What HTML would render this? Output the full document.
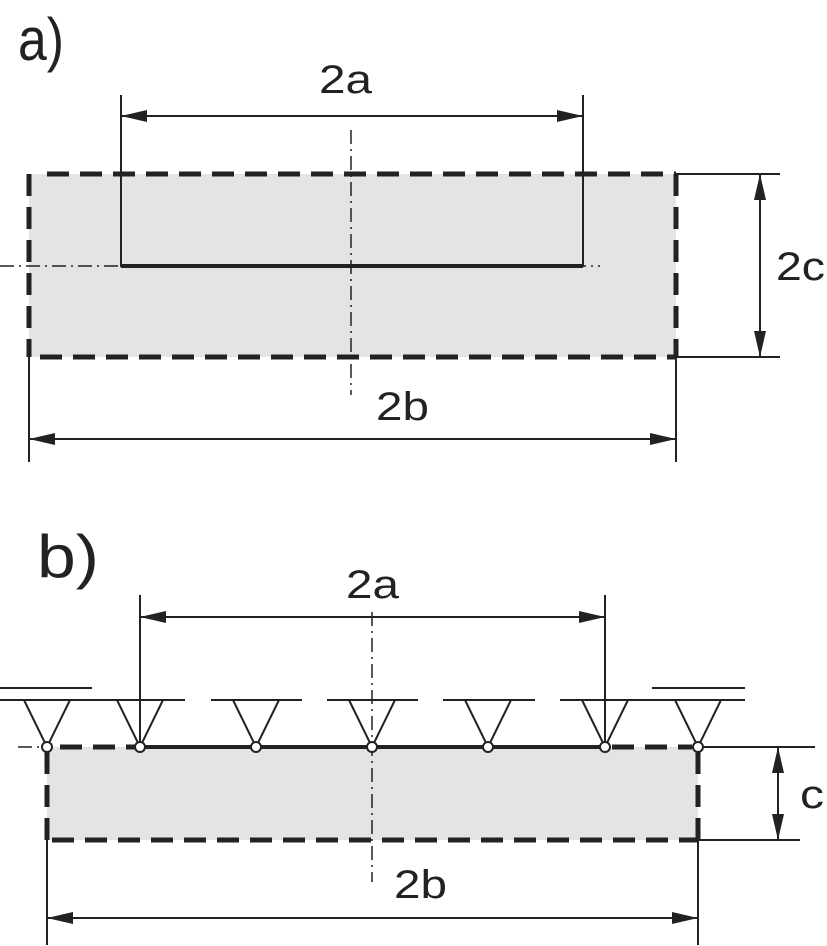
<!DOCTYPE html>
<html><head><meta charset="utf-8"><style>html,body{margin:0;padding:0;background:#fff}svg{display:block}</style></head>
<body>
<svg width="827" height="946" viewBox="0 0 827 946" xmlns="http://www.w3.org/2000/svg" font-family="Liberation Sans, sans-serif" fill="#222">
<defs>
<marker id="ar" viewBox="0 0 26 12" refX="26" refY="6" markerWidth="26" markerHeight="12" markerUnits="userSpaceOnUse" orient="auto-start-reverse"><path d="M0,0 L26,6 L0,12 z" fill="#222"/></marker>
</defs>
<!-- Part a -->
<text x="18" y="60" font-size="60" textLength="46" lengthAdjust="spacingAndGlyphs">a)</text>
<text x="319" y="93" font-size="40" textLength="53" lengthAdjust="spacingAndGlyphs">2a</text>
<rect x="29" y="174" width="647" height="183" fill="#e4e4e4"/>
<g stroke="#222" stroke-width="5" fill="none" stroke-dasharray="22,11">
<line x1="47" y1="174" x2="676" y2="174"/>
<line x1="40" y1="357" x2="676" y2="357"/>
<line x1="29" y1="174" x2="29" y2="357"/>
<line x1="676" y1="174" x2="676" y2="357"/>
</g>
<g stroke="#222" stroke-width="1.5" fill="none" stroke-dasharray="14,5,2,5">
<line x1="351" y1="130" x2="351" y2="395"/>
<line x1="0" y1="266" x2="600" y2="266"/>
</g>
<path d="M121,95 V266 H583 V95" stroke="#222" stroke-width="2" fill="none"/>
<line x1="121" y1="266" x2="583" y2="266" stroke="#222" stroke-width="4"/>
<g stroke="#222" stroke-width="2" fill="none">
<line x1="121" y1="116" x2="583" y2="116" marker-start="url(#ar)" marker-end="url(#ar)"/>
<line x1="676" y1="174" x2="780" y2="174"/>
<line x1="676" y1="357" x2="780" y2="357"/>
<line x1="760" y1="174" x2="760" y2="357" marker-start="url(#ar)" marker-end="url(#ar)"/>
<line x1="29" y1="357" x2="29" y2="462"/>
<line x1="676" y1="357" x2="676" y2="462"/>
<line x1="29" y1="439" x2="676" y2="439" marker-start="url(#ar)" marker-end="url(#ar)"/>
</g>
<text x="776" y="280" font-size="40" textLength="49" lengthAdjust="spacingAndGlyphs">2c</text>
<text x="376" y="420" font-size="40" textLength="53" lengthAdjust="spacingAndGlyphs">2b</text>

<!-- Part b -->
<text x="37" y="577" font-size="60" textLength="62" lengthAdjust="spacingAndGlyphs">b)</text>
<text x="346" y="598" font-size="40" textLength="53" lengthAdjust="spacingAndGlyphs">2a</text>
<rect x="47" y="747" width="651" height="93" fill="#e4e4e4"/>
<g stroke="#222" stroke-width="5" fill="none" stroke-dasharray="22,11">
<line x1="52" y1="840" x2="698" y2="840"/>
<line x1="47" y1="752" x2="47" y2="840"/>
<line x1="698" y1="752" x2="698" y2="840"/>
<line x1="60" y1="747" x2="135" y2="747"/>
<line x1="612" y1="747" x2="692" y2="747"/>
</g>
<line x1="140" y1="747" x2="605" y2="747" stroke="#222" stroke-width="4"/>
<g stroke="#222" stroke-width="1.5" fill="none" stroke-dasharray="14,5,2,5">
<line x1="372" y1="612" x2="372" y2="882"/>
<line x1="18" y1="747" x2="40" y2="747"/>
</g>
<g stroke="#222" stroke-width="2" fill="none">
<line x1="0" y1="688" x2="92" y2="688"/>
<line x1="652" y1="688" x2="745" y2="688"/>
<line x1="0" y1="700" x2="185" y2="700"/>
<line x1="211" y1="700" x2="302" y2="700"/>
<line x1="327" y1="700" x2="418" y2="700"/>
<line x1="443" y1="700" x2="535" y2="700"/>
<line x1="560" y1="700" x2="745" y2="700"/>
<line x1="140" y1="595" x2="140" y2="747"/>
<line x1="605" y1="595" x2="605" y2="747"/>
<line x1="140" y1="617" x2="605" y2="617" marker-start="url(#ar)" marker-end="url(#ar)"/>
<path d="M24,700 L47,747 L70,700 M117,700 L140,747 L163,700 M233,700 L256,747 L279,700 M349,700 L372,747 L395,700 M465,700 L488,747 L511,700 M582,700 L605,747 L628,700 M675,700 L698,747 L721,700"/>
<line x1="698" y1="747" x2="815" y2="747"/>
<line x1="698" y1="840" x2="800" y2="840"/>
<line x1="778" y1="747" x2="778" y2="840" marker-start="url(#ar)" marker-end="url(#ar)"/>
<line x1="47" y1="840" x2="47" y2="945"/>
<line x1="698" y1="840" x2="698" y2="945"/>
<line x1="47" y1="918" x2="698" y2="918" marker-start="url(#ar)" marker-end="url(#ar)"/>
</g>
<g fill="#fff" stroke="#222" stroke-width="2">
<circle cx="47" cy="747" r="5"/><circle cx="140" cy="747" r="5"/><circle cx="256" cy="747" r="5"/><circle cx="372" cy="747" r="5"/><circle cx="488" cy="747" r="5"/><circle cx="605" cy="747" r="5"/><circle cx="698" cy="747" r="5"/>
</g>
<text x="800" y="808" font-size="40" textLength="24" lengthAdjust="spacingAndGlyphs">c</text>
<text x="394" y="898" font-size="40" textLength="53" lengthAdjust="spacingAndGlyphs">2b</text>
</svg>
</body></html>
